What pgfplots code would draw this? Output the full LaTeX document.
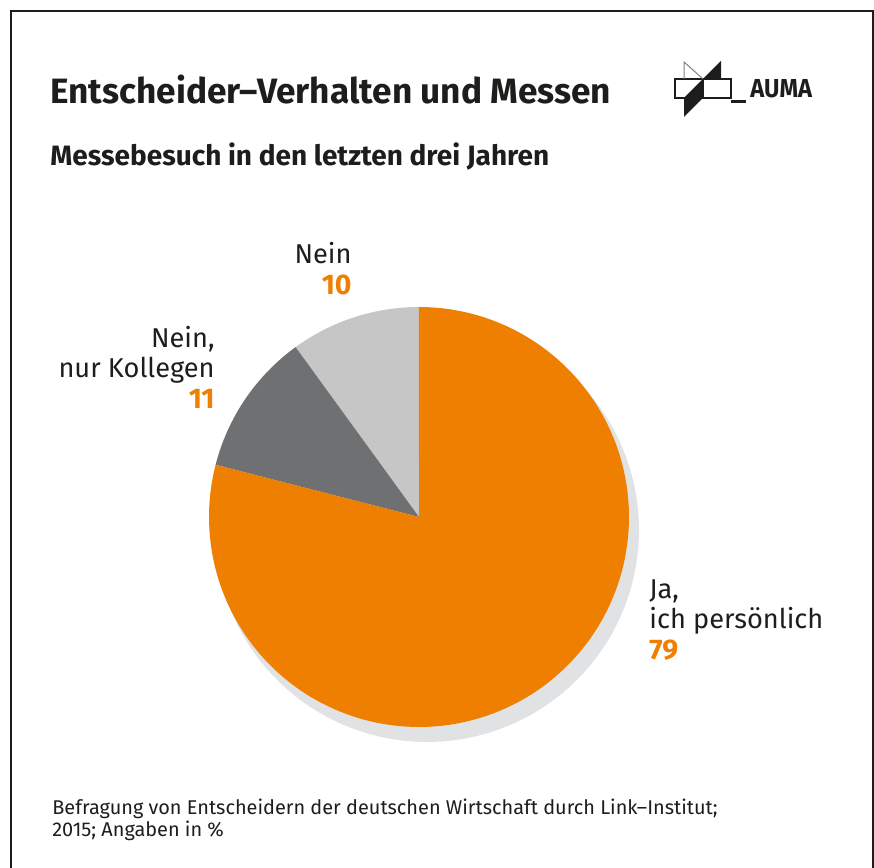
\documentclass[border=0pt]{standalone}
\usepackage{fontspec}
\setmainfont{Fira Sans}
\usepackage{graphicx}
\usepackage{pgfplots}
\usepackage{pgfplotstable}
\pgfplotsset{compat=1.18}
\definecolor{aumaorange}{HTML}{EE7F00}
\definecolor{darkslice}{HTML}{6F7072}
\definecolor{lightslice}{HTML}{C6C6C6}
\definecolor{shadowgray}{HTML}{E1E2E4}
\definecolor{txt}{HTML}{1D1D1B}

\pgfplotstableread{
antwort wert
Nein 10
Kollegen 11
Ja 79
}\messedata
\pgfplotstablegetelem{0}{wert}\of\messedata \let\vNein\pgfplotsretval
\pgfplotstablegetelem{1}{wert}\of\messedata \let\vKoll\pgfplotsretval
\pgfplotstablegetelem{2}{wert}\of\messedata \let\vJa\pgfplotsretval
% slices run counter-clockwise from 12 o'clock
\pgfmathsetmacro\aA{90}
\pgfmathsetmacro\aB{\aA+3.6*\vNein}
\pgfmathsetmacro\aC{\aB+3.6*\vKoll}
\pgfmathsetmacro\aD{\aC+3.6*\vJa}

\begin{document}%
\begin{tikzpicture}
  \begin{axis}[
    x=0.5pt, y=0.5pt, xmin=0, xmax=874, ymin=0, ymax=868,
    hide axis, clip=false, at={(0pt,0pt)}, anchor=origin]
    % frame (open at the bottom)
    \draw[txt, line width=1.2pt] (11,-4) -- (11,857) -- (873,857) -- (873,-4);
    % shadow
    \addplot[fill=shadowgray, draw=none, domain=0:360, samples=180]
      ({427+212*cos(x)}, {338+212*sin(x)}) -- cycle;
    % slices
    \addplot[fill=lightslice, draw=none, domain=\aA:\aB, samples=30]
      ({419+210*cos(x)}, {351+210*sin(x)}) -- (419,351) -- cycle;
    \addplot[fill=darkslice, draw=none, domain=\aB:\aC, samples=30]
      ({419+210*cos(x)}, {351+210*sin(x)}) -- (419,351) -- cycle;
    \addplot[fill=aumaorange, draw=none, domain=\aC:\aD, samples=160]
      ({419+210*cos(x)}, {351+210*sin(x)}) -- (419,351) -- cycle;
    % titles
    \node[anchor=base west, inner sep=0pt, font=\fontsize{17.6}{20}\selectfont\bfseries\color{txt}]
      at (50,764) {Entscheider–Verhalten und Messen};
    \node[anchor=base west, inner sep=0pt, font=\fontsize{14}{16}\selectfont\bfseries\color{txt}]
      at (50,702) {Messebesuch in den letzten drei Jahren};
    % logo
    \fill[txt] (703,789) -- (721,807) -- (721,789) -- cycle;
    \fill[txt] (703,789) -- (703,770) -- (684,751) -- (684,770) -- cycle;
    \draw[txt, line width=0.6pt] (675,789) rectangle (731,770);
    \draw[txt, line width=0.6pt] (703,789) -- (703,770);
    \draw[gray, line width=0.5pt] (684,789) -- (684,806) -- (703,789);
    \fill[txt] (731,765) rectangle (746,768);
    \node[anchor=base west, inner sep=0pt, font=\fontsize{13}{15}\selectfont\bfseries\color{txt}]
      at (750,770) {\scalebox{0.91}[1]{AUMA}};
    % labels
    \node[anchor=base east, inner sep=0pt, font=\fontsize{13.6}{16}\selectfont\color{txt}]
      at (352,604) {Nein};
    \node[anchor=base east, inner sep=0pt, font=\fontsize{14.2}{16}\selectfont\bfseries\color{aumaorange}]
      at (352,573) {\vNein};
    \node[anchor=base east, inner sep=0pt, font=\fontsize{13.6}{16}\selectfont\color{txt}]
      at (215,520) {Nein,};
    \node[anchor=base east, inner sep=0pt, font=\fontsize{13.6}{16}\selectfont\color{txt}]
      at (215,490) {nur Kollegen};
    \node[anchor=base east, inner sep=0pt, font=\fontsize{14.2}{16}\selectfont\bfseries\color{aumaorange}]
      at (215,459) {\vKoll};
    \node[anchor=base west, inner sep=0pt, font=\fontsize{13.6}{16}\selectfont\color{txt}]
      at (649,269) {Ja,};
    \node[anchor=base west, inner sep=0pt, font=\fontsize{13.6}{16}\selectfont\color{txt}]
      at (649,239) {ich persönlich};
    \node[anchor=base west, inner sep=0pt, font=\fontsize{14.2}{16}\selectfont\bfseries\color{aumaorange}]
      at (649,208) {\vJa};
    % source
    \node[anchor=base west, inner sep=0pt, font=\fontsize{9.95}{11}\selectfont\color{txt}]
      at (52,53) {Befragung von Entscheidern der deutschen Wirtschaft durch Link–Institut;};
    \node[anchor=base west, inner sep=0pt, font=\fontsize{9.95}{11}\selectfont\color{txt}]
      at (52,31) {2015; Angaben in \%};
  \end{axis}
  \pgfresetboundingbox
  \path (0pt,0pt) rectangle (437pt,434pt);
\end{tikzpicture}%
\end{document}
